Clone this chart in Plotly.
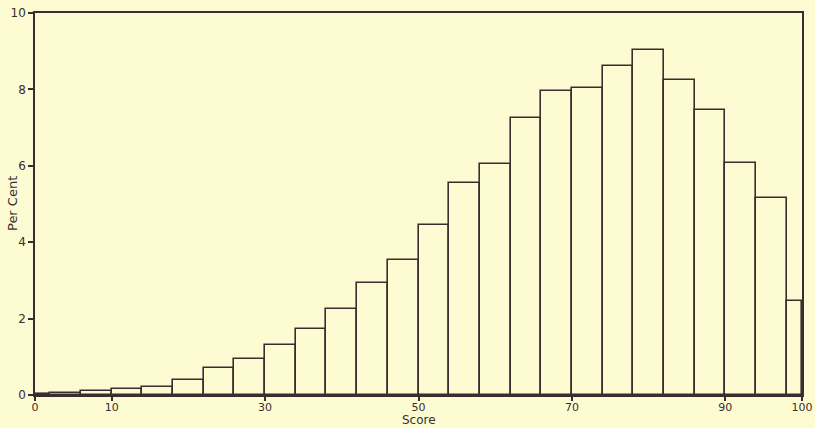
import plotly.graph_objects as go

# Class boundaries of the score distribution (end classes are half-width)
score_edges = [0, 2, 6, 10, 14, 18, 22, 26, 30, 34, 38, 42, 46, 50, 54, 58,
               62, 66, 70, 74, 78, 82, 86, 90, 94, 98, 100]
# Percentage of cases falling in each class
per_cent = [0.03, 0.06, 0.10, 0.17, 0.22, 0.40, 0.72, 0.93, 1.32, 1.74, 2.24,
            2.94, 3.54, 4.45, 5.55, 6.04, 7.24, 7.95, 8.03, 8.62, 9.02, 8.25,
            7.46, 6.07, 5.15, 2.46]
x_ticks = [0, 10, 30, 50, 70, 90, 100]
y_ticks = [0, 2, 4, 6, 8, 10]

centers = [(a + b) / 2 for a, b in zip(score_edges[:-1], score_edges[1:])]
widths = [b - a for a, b in zip(score_edges[:-1], score_edges[1:])]

paper = "#fdfbd2"
ink = "#3a2d2f"

fig = go.Figure(
    go.Bar(
        x=centers,
        y=per_cent,
        width=widths,
        marker=dict(color=paper, line=dict(color=ink, width=1.6)),
        hoverinfo="x+y",
    )
)

fig.update_layout(
    width=815,
    height=428,
    margin=dict(l=35, r=13, t=13, b=33),
    paper_bgcolor=paper,
    plot_bgcolor=paper,
    showlegend=False,
    font=dict(family="DejaVu Sans", size=12, color=ink),
    bargap=0,
    annotations=[
        dict(text="Score", xref="paper", yref="paper", x=0.5, y=0,
             yshift=-33, yanchor="bottom", showarrow=False, borderpad=0,
             font=dict(size=12, color=ink)),
        dict(text="Per Cent", xref="paper", yref="paper", x=0, y=0.5,
             xshift=-23, xanchor="center", textangle=-90, showarrow=False,
             font=dict(size=13, color=ink)),
    ],
)

axis_style = dict(
    ticks="outside",
    tickwidth=1.5,
    tickcolor=ink,
    showline=True,
    linecolor=ink,
    linewidth=1.6,
    mirror=True,
    showgrid=False,
    zeroline=False,
    automargin=False,
)

fig.update_xaxes(range=[0, 100], tickvals=x_ticks, ticklen=4,
                 ticklabelstandoff=-3, tickfont=dict(size=11), **axis_style)
fig.update_yaxes(range=[0, 10], tickvals=y_ticks, ticklen=5,
                 ticklabelstandoff=0, tickfont=dict(size=12), **axis_style)

fig.write_html("out.html")
